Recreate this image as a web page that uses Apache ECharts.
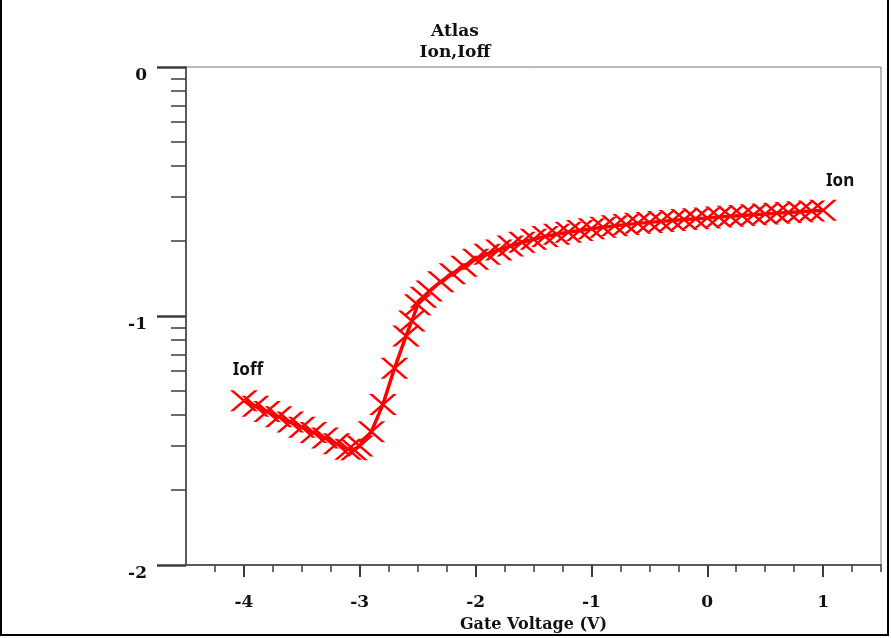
<!DOCTYPE html>
<html>
<head>
<meta charset="utf-8">
<title>Atlas Ion,Ioff</title>
<script src="https://cdn.jsdelivr.net/npm/echarts@6/dist/echarts.min.js"></script>
<style>
  html, body { margin: 0; padding: 0; background: #fff; }
  #chart { width: 891px; height: 638px; }
</style>
</head>
<body>
<div id="chart"></div>
<script>
// Transfer characteristic: gate voltage (V) vs log10 of drain current
const gateVoltage = [
  -4.0, -3.9, -3.8, -3.7, -3.6, -3.5, -3.4, -3.3, -3.2, -3.1, -3.05, -3.0,
  -2.9, -2.8, -2.7, -2.6, -2.55, -2.5, -2.45, -2.4, -2.3, -2.2, -2.1,
  -2.0, -1.9, -1.8, -1.7, -1.6, -1.5, -1.4, -1.3, -1.2, -1.1,
  -1.0, -0.9, -0.8, -0.7, -0.6, -0.5, -0.4, -0.3, -0.2, -0.1,
  0.0, 0.1, 0.2, 0.3, 0.4, 0.5, 0.6, 0.7, 0.8, 0.9, 1.0
];
const logCurrent = [
  -1.340, -1.362, -1.384, -1.405, -1.426, -1.447, -1.468, -1.490, -1.513, -1.535, -1.537, -1.522,
  -1.465, -1.355, -1.210, -1.080, -1.020, -0.955, -0.925, -0.900, -0.862, -0.830, -0.800,
  -0.772, -0.752, -0.735, -0.719, -0.704, -0.692, -0.681, -0.672, -0.664, -0.657,
  -0.650, -0.644, -0.638, -0.633, -0.628, -0.624, -0.620, -0.616, -0.612, -0.609,
  -0.606, -0.602, -0.599, -0.596, -0.593, -0.590, -0.587, -0.584, -0.581, -0.578, -0.575
];

// Axis ticks and labels
const xMajorTicks = [-4, -3, -2, -1, 0, 1];
const xMinorTicks = [-4.25, -3.75, -3.5, -3.25, -2.75, -2.5, -2.25, -1.75, -1.5, -1.25,
                     -0.75, -0.5, -0.25, 0.25, 0.5, 0.75, 1.25, 1.5];
const yMajorTicks = [-2, -1, 0];
const decadeSteps = [2, 3, 4, 5, 6, 7, 8, 9];
const yMinorTicks = [];
[-1, -2].forEach(function (d) {
  decadeSteps.forEach(function (k) { yMinorTicks.push(d + Math.log10(k)); });
});

const titleLines = ['Atlas', 'Ion,Ioff'];
const xAxisTitle = 'Gate Voltage (V)';
const endLabels = { first: 'Ioff', last: 'Ion' };

const serif = '"DejaVu Serif", "Liberation Serif", serif';
const sans = '"Noto Sans", "Open Sans", sans-serif';
const red = '#ff0000';
const axisGray = '#3c3c3c';

// X marker built from two thin filled bars
const crossSymbol = 'path://M0,0 L4,0 L30,22 L26,22 Z M26,0 L30,0 L4,22 L0,22 Z';

const endLabelStyle = {
  show: true, position: 'inside',
  fontFamily: sans, fontWeight: 'bold', fontSize: 17, color: '#111'
};

const seriesData = gateVoltage.map(function (v, i) {
  const item = { value: [v, logCurrent[i]] };
  if (i === 0) {
    item.label = Object.assign({ formatter: endLabels.first, offset: [4, -31] }, endLabelStyle);
  } else if (i === gateVoltage.length - 1) {
    item.label = Object.assign({ formatter: endLabels.last, offset: [17, -29] }, endLabelStyle);
  }
  return item;
});

const chart = echarts.init(document.getElementById('chart'), null, { renderer: 'canvas' });

const labelFont = { fontFamily: serif, fontWeight: 'bold', fontSize: 17, color: '#111' };

chart.setOption({
  animation: false,
  backgroundColor: '#fff',
  grid: {
    left: 186, right: 10, top: 67, bottom: 73,
    show: true, borderColor: '#777', borderWidth: 1,
    outerBoundsMode: 'none'
  },
  graphic: [
    {
      type: 'rect', silent: true,
      shape: { x: 1, y: -4, width: 887, height: 639 },
      style: { fill: 'none', stroke: '#000', lineWidth: 2 }
    },
    {
      type: 'text', silent: true, x: 455, y: 42,
      style: {
        text: titleLines.join('\n'), fill: '#111',
        font: 'bold 17px ' + serif, lineHeight: 21,
        textAlign: 'center', textVerticalAlign: 'middle'
      }
    }
  ],
  xAxis: [
    {
      type: 'value', min: -4.5, max: 1.5,
      position: 'bottom',
      name: xAxisTitle, nameLocation: 'middle', nameGap: 52,
      nameTextStyle: { fontFamily: serif, fontWeight: 'bold', fontSize: 16, color: '#111' },
      axisLine: { show: true, onZero: false, lineStyle: { color: axisGray, width: 1.5 } },
      axisTick: { show: true, inside: false, length: 12, customValues: xMajorTicks,
                  lineStyle: { color: axisGray, width: 2 } },
      axisLabel: Object.assign({ show: true, margin: 29, customValues: xMajorTicks,
                                 formatter: function (v) { return String(v); } }, labelFont),
      splitLine: { show: false }
    },
    {
      type: 'value', min: -4.5, max: 1.5,
      position: 'bottom',
      axisLine: { show: false, onZero: false },
      axisTick: { show: true, inside: false, length: 7, customValues: xMinorTicks,
                  lineStyle: { color: axisGray, width: 1.5 } },
      axisLabel: { show: false },
      splitLine: { show: false }
    }
  ],
  yAxis: [
    {
      type: 'value', min: -2, max: 0, interval: 1,
      position: 'left',
      axisLine: { show: true, onZero: false, lineStyle: { color: axisGray, width: 1.5 } },
      axisTick: { show: true, inside: false, length: 29, customValues: yMajorTicks,
                  lineStyle: { color: axisGray, width: 2.5 } },
      axisLabel: Object.assign({ show: true, margin: 39, customValues: yMajorTicks,
                                 verticalAlign: 'top', lineHeight: 18,
                                 formatter: function (v) { return String(v); } }, labelFont),
      splitLine: { show: false }
    },
    {
      type: 'value', min: -2, max: 0,
      position: 'left',
      axisLine: { show: false, onZero: false },
      axisTick: { show: true, inside: false, length: 15, customValues: yMinorTicks,
                  lineStyle: { color: axisGray, width: 1.5 } },
      axisLabel: { show: false },
      splitLine: { show: false }
    }
  ],
  series: [
    {
      type: 'line',
      xAxisIndex: 0, yAxisIndex: 0,
      data: seriesData,
      symbol: crossSymbol,
      symbolSize: [28, 21],
      showAllSymbol: true,
      lineStyle: { color: red, width: 3.5 },
      itemStyle: { color: red },
      label: { show: false },
      emphasis: { disabled: true },
      z: 3
    }
  ]
});
</script>
</body>
</html>
